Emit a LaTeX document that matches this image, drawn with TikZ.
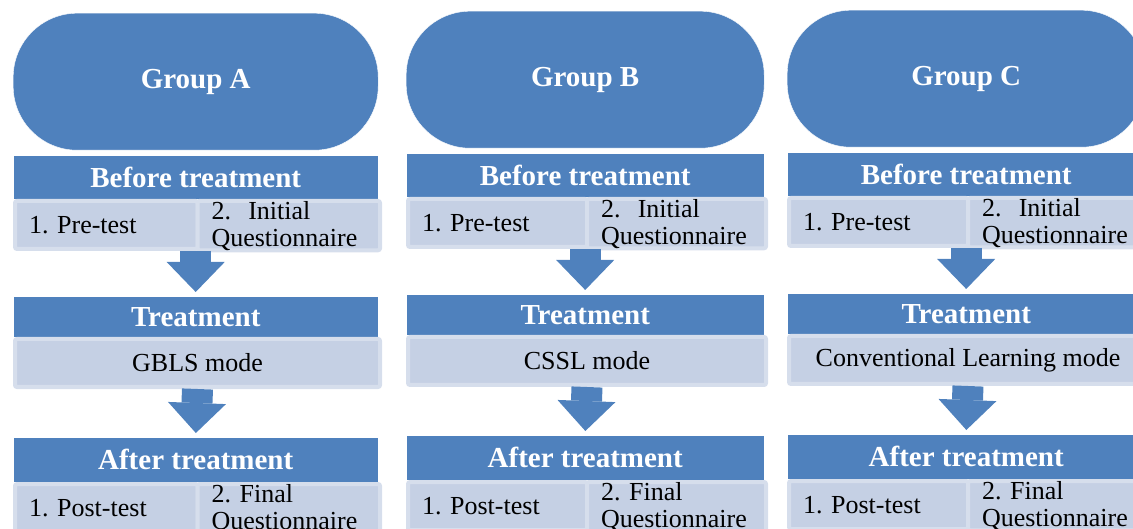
\documentclass[tikz,border=0pt]{standalone}
\usepackage{fontspec}
\setmainfont{Liberation Serif}
\usetikzlibrary{arrows.meta}
\definecolor{boxblue}{RGB}{79,129,189}
\definecolor{boxlight}{RGB}{197,208,228}
\definecolor{boxedge}{RGB}{214,222,236}

\begin{document}
\begin{tikzpicture}[x=1pt, y=-1pt,
    every node/.style={inner sep=0pt, anchor=north west},
    pill/.style={fill=boxblue, draw=white, rounded corners=64pt, minimum height=137pt, text=white, font=\fontsize{29}{32}\selectfont\bfseries},
    head/.style={fill=boxblue, draw=white, text=white, font=\fontsize{29}{32}\selectfont\bfseries},
    sub/.style={fill=boxlight, draw=boxedge, line width=4pt, rounded corners=2pt, minimum height=48pt, inner xsep=14pt, align=left, font=\fontsize{26}{27}\selectfont},
    flow/.style={boxblue, line width=31pt, shorten >=4pt, -{Triangle[length=30pt, width=58pt, line width=0pt]}}]
    \useasboundingbox (0,0) rectangle (1133,529);
    \clip (0,0) rectangle (1133,529);
    \foreach \g/\x/\dy/\w/\mode in {A/13/0/365/GBLS mode, B/406/-2/358/CSSL mode, C/787/-3/358/Conventional Learning mode} {
        \pgfmathsetmacro\hw{\w/2}
        \pgfmathsetmacro\tw{\w/2-28}
        \node[pill, minimum width=\w pt] (group\g) at (\x,{13+\dy}) {Group \g};
        \node[head, minimum width=\w pt, minimum height=44pt] (before\g) at (\x,{155+\dy}) {Before treatment};
        \node[sub, text width=\tw pt] (pre\g) at (\x,{199+\dy}) {1.\ Pre-test};
        \node[sub, text width=\tw pt] (init\g) at ({\x+\hw},{199+\dy}) {2.\ \ Initial\\Questionnaire};
        \node[head, minimum width=\w pt, minimum height=41pt] (treat\g) at (\x,{296+\dy}) {Treatment};
        \node[sub, minimum width=\w pt, align=center] (mode\g) at (\x,{337+\dy}) {\mode};
        \node[head, minimum width=\w pt, minimum height=45pt] (after\g) at (\x,{437+\dy}) {After treatment};
        \node[sub, text width=\tw pt] (post\g) at (\x,{482+\dy}) {1.\ Post-test};
        \node[sub, text width=\tw pt] (final\g) at ({\x+\hw},{482+\dy}) {2.\ Final\\Questionnaire};
        \draw[flow] (before\g.south |- pre\g.south) -- (treat\g.north);
        \draw[flow] (mode\g.south) -- (after\g.north);
    }
\end{tikzpicture}
\end{document}
